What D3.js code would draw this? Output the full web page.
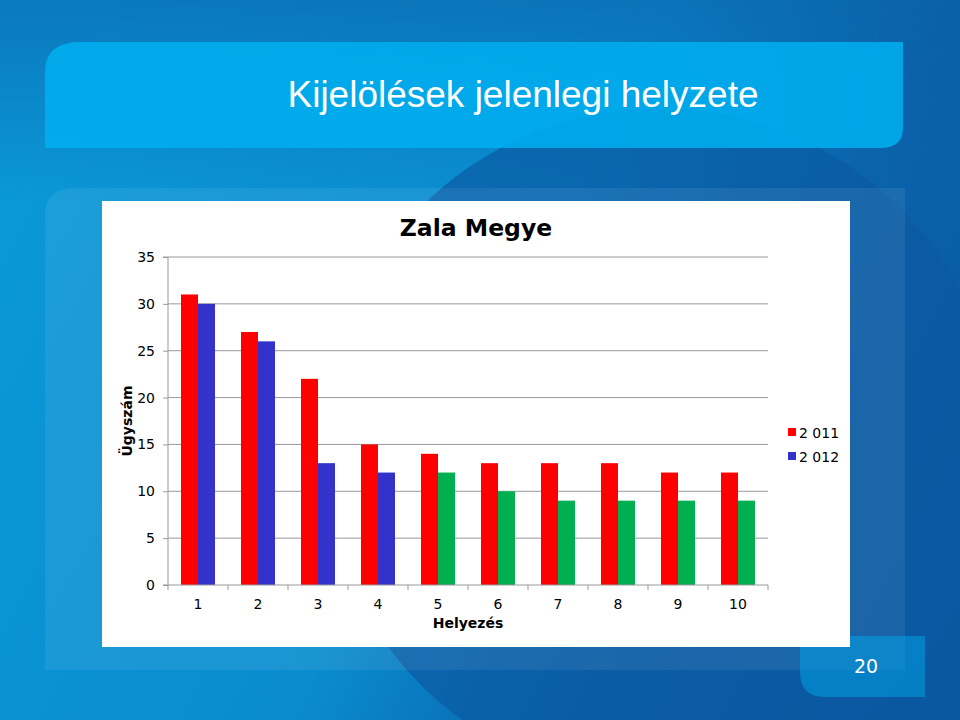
<!DOCTYPE html>
<html lang="hu">
  <head>
    <meta charset="utf-8">
    <title>Kijelölések jelenlegi helyzete</title>
    <script type="text/javascript" src="https://d3js.org/d3.v7.min.js"></script>
    <style>
      body { margin: 0; }
      svg { display: block; }
    </style>
  </head>
  <body>
    <script type="text/javascript">
    var categories = [1, 2, 3, 4, 5, 6, 7, 8, 9, 10];
    var series = ["2 011", "2 012"];
    var values2011 = [31, 27, 22, 15, 14, 13, 13, 13, 12, 12];
    var values2012 = [30, 26, 13, 12, 12, 10, 9, 9, 9, 9];
    var yTicks = [0, 5, 10, 15, 20, 25, 30, 35];

    var w = 960, h = 720;
    var svg = d3.select("body").append("svg").attr("width", w).attr("height", h);
    var defs = svg.append("defs");

    // slide background
    var bg = defs.append("linearGradient").attr("id", "bg")
      .attr("x1", "0").attr("y1", "0.3").attr("x2", "1").attr("y2", "0.7");
    bg.append("stop").attr("offset", "0").attr("stop-color", "#0a98d8");
    bg.append("stop").attr("offset", "0.5").attr("stop-color", "#0a8ccf");
    bg.append("stop").attr("offset", "0.75").attr("stop-color", "#0a64ac");
    bg.append("stop").attr("offset", "1").attr("stop-color", "#0a58a0");
    svg.append("rect").attr("width", w).attr("height", h).attr("fill", "url(#bg)");
    var topShade = defs.append("linearGradient").attr("id", "topShade")
      .attr("x1", "0").attr("y1", "0").attr("x2", "0").attr("y2", "1");
    topShade.append("stop").attr("offset", "0").attr("stop-color", "#0a5ea6").attr("stop-opacity", 0.55);
    topShade.append("stop").attr("offset", "1").attr("stop-color", "#0a5ea6").attr("stop-opacity", 0);
    svg.append("rect").attr("width", w).attr("height", 200).attr("fill", "url(#topShade)");
    svg.append("circle").attr("cx", 660).attr("cy", 446).attr("r", 338)
      .attr("fill", "#0a5aa2").attr("opacity", 0.7);

    // title band
    svg.append("path")
      .attr("d", "M45,148 L45,72 Q45,42 80,42 L903,42 L903,128 Q903,148 880,148 Z")
      .attr("fill", "#00b0f0").attr("opacity", 0.86);
    svg.append("text").attr("x", 523).attr("y", 107).attr("text-anchor", "middle")
      .attr("font-family", "Liberation Sans, Arial, sans-serif").attr("font-size", 37)
      .attr("fill", "#fff").text("Kijelölések jelenlegi helyzete");

    // lighter panel behind the chart
    svg.append("path")
      .attr("d", "M45,670 L45,215 Q45,188 75,188 L905,188 L905,670 Z")
      .attr("fill", "#ffffff").attr("opacity", 0.07);

    // page number box
    svg.append("path")
      .attr("d", "M800,636 L925,636 L925,697 L825,697 Q800,697 800,672 Z")
      .attr("fill", "#00aeef").attr("opacity", 0.45);
    svg.append("text").attr("x", 866).attr("y", 673).attr("text-anchor", "middle")
      .attr("font-family", "DejaVu Sans, Verdana, sans-serif").attr("font-size", 19)
      .attr("fill", "#fff").text("20");

    // chart area
    svg.append("rect").attr("x", 102).attr("y", 201).attr("width", 748).attr("height", 446)
      .attr("fill", "#fff");

    var font = "DejaVu Sans, Verdana, sans-serif";
    var plotLeft = 168, plotRight = 768, plotTop = 257, plotBottom = 585;

    var x = d3.scaleBand().domain(categories).range([plotLeft, plotRight]).padding(0);
    var xs = d3.scaleBand().domain(series).range([13, 47]).padding(0);
    var y = d3.scaleLinear().domain([0, 35]).range([plotBottom, plotTop]);

    // gridlines
    svg.append("g").selectAll("line").data(yTicks.filter(function(d) { return d > 0; }))
      .enter().append("line")
      .attr("x1", plotLeft).attr("x2", plotRight)
      .attr("y1", function(d) { return y(d); }).attr("y2", function(d) { return y(d); })
      .attr("stroke", "#999").attr("stroke-width", 1);

    // bars
    var rows = [];
    categories.forEach(function(c, i) {
      rows.push({ cat: c, s: series[0], v: values2011[i], color: "#ff0000" });
      rows.push({ cat: c, s: series[1], v: values2012[i], color: i < 4 ? "#3333cc" : "#00b050" });
    });
    svg.append("g").selectAll("rect").data(rows).enter().append("rect")
      .attr("x", function(d) { return x(d.cat) + xs(d.s); })
      .attr("y", function(d) { return y(d.v); })
      .attr("width", xs.bandwidth())
      .attr("height", function(d) { return y(0) - y(d.v); })
      .attr("fill", function(d) { return d.color; });

    // y axis
    var yAxis = d3.axisLeft(y).tickValues(yTicks).tickSize(5).tickPadding(8);
    var gy = svg.append("g").attr("transform", "translate(" + plotLeft + ",0)").call(yAxis);
    gy.select(".domain").attr("stroke", "#999").attr("d", "M-5," + plotTop + "H0V" + plotBottom + "H-5");
    gy.selectAll(".tick line").attr("stroke", "#999");
    gy.selectAll("text").attr("font-family", font).attr("font-size", 14).attr("fill", "#000");

    // x axis
    var xAxis = d3.axisBottom(x).tickSize(0).tickPadding(14);
    var gx = svg.append("g").attr("transform", "translate(0," + plotBottom + ")").call(xAxis);
    gx.select(".domain").attr("stroke", "#999").attr("d", "M" + plotLeft + ",0H" + plotRight);
    gx.selectAll("text").attr("font-family", font).attr("font-size", 14).attr("fill", "#000");
    gx.selectAll("line.sep").data(categories.concat([null])).enter().append("line")
      .attr("class", "sep")
      .attr("x1", function(d, i) { return plotLeft + i * x.step(); })
      .attr("x2", function(d, i) { return plotLeft + i * x.step(); })
      .attr("y1", 0).attr("y2", 5).attr("stroke", "#999");

    // titles
    svg.append("text").attr("x", 476).attr("y", 236).attr("text-anchor", "middle")
      .attr("font-family", font).attr("font-weight", "bold").attr("font-size", 23.5)
      .text("Zala Megye");
    svg.append("text").attr("x", 468).attr("y", 628).attr("text-anchor", "middle")
      .attr("font-family", font).attr("font-weight", "bold").attr("font-size", 14)
      .text("Helyezés");
    svg.append("text").attr("transform", "translate(132,421) rotate(-90)")
      .attr("text-anchor", "middle")
      .attr("font-family", font).attr("font-weight", "bold").attr("font-size", 14)
      .text("Ügyszám");

    // legend
    var legend = svg.append("g").selectAll("g").data(series).enter().append("g")
      .attr("transform", function(d, i) { return "translate(788," + (428 + i * 24) + ")"; });
    legend.append("rect").attr("width", 8).attr("height", 8)
      .attr("fill", function(d, i) { return i === 0 ? "#ff0000" : "#3333cc"; });
    legend.append("text").attr("x", 11).attr("y", 9.5)
      .attr("font-family", font).attr("font-size", 14).text(function(d) { return d; });
    </script>
  </body>
</html>
